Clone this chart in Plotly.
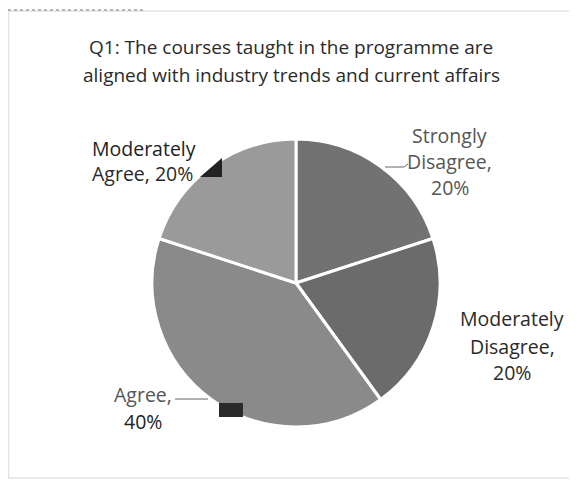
import plotly.graph_objects as go

# The page places the figure 8px from the top-left corner (default body margin),
# so the figure is sized to fill the rest of the 577x480 window.
OFF = 8
W, H = 577 - OFF, 480 - OFF

# ---- data ----
labels = ["Strongly Disagree", "Moderately Disagree", "Agree", "Moderately Agree"]
values = [20, 20, 40, 20]
slice_colors = ["#727272", "#6b6b6b", "#8a8a8a", "#9a9a9a"]
title_lines = ["Q1: The courses taught in the programme are",
               "aligned with industry trends and current affairs"]

def px(x):
    return (x - OFF) / W

def py(y):
    return 1 - (y - OFF) / H

fig = go.Figure(go.Pie(
    labels=labels,
    values=values,
    sort=False,
    direction="clockwise",
    rotation=0,
    textinfo="none",
    hoverinfo="label+percent",
    marker=dict(colors=slice_colors, line=dict(color="white", width=3)),
    domain=dict(x=[px(152), px(440)], y=[py(427), py(139)]),
    showlegend=False,
))

font_main = "Open Sans, DejaVu Sans, sans-serif"

annotations = []
for i, line in enumerate(title_lines):
    annotations.append(dict(
        x=px(291), y=py(47 + 28 * i), xref="paper", yref="paper",
        text=line, showarrow=False, xanchor="center", yanchor="middle",
        font=dict(family=font_main, size=19, color="#2a2a2a"),
    ))

def split_label(label, value, style):
    words = label.split(" ")
    if style == "stack":
        return words[:-1] + [words[-1] + ",", f"{value}%"]
    if style == "two":
        return words[:-1] + [words[-1] + f", {value}%"]
    return [f"{label},", f"{value}%"]

# style, anchor x, line y positions, alignment, line colours
label_specs = [
    ("stack", 450, [135, 161, 187], "center", ["#555555", "#555555", "#555555"]),
    ("stack", 512, [318, 346, 372], "center", ["#2a2a2a", "#2a2a2a", "#2a2a2a"]),
    ("simple", 143, [394, 421], "center", ["#555555", "#222222"]),
    ("two", 90, [148, 173], "left", ["#222222", "#2a2a2a"]),
]
for (style, x, ys, align, cols), lab, val in zip(label_specs, labels, values):
    for line, y, col in zip(split_label(lab, val, style), ys, cols):
        annotations.append(dict(
            x=px(x), y=py(y), xref="paper", yref="paper",
            text=line, showarrow=False,
            xanchor=align, yanchor="middle", align=align,
            font=dict(family=font_main, size=19.5, color=col),
        ))

shapes = [
    dict(type="rect", xref="paper", yref="paper", x0=px(8.5), x1=px(576), y0=py(478), y1=py(11),
         line=dict(color="#e2e2e2", width=1.5), layer="below"),
    dict(type="line", xref="paper", yref="paper", x0=px(8), x1=px(145), y0=py(10), y1=py(10),
         line=dict(color="#777777", width=1, dash="dot")),
    dict(type="path", xref="paper", yref="paper",
         path=f"M {px(385)},{py(167)} L {px(404)},{py(167)} L {px(408)},{py(164)}",
         line=dict(color="#666666", width=1)),
    dict(type="line", xref="paper", yref="paper", x0=px(175), x1=px(208), y0=py(399), y1=py(399),
         line=dict(color="#666666", width=1)),
    dict(type="path", xref="paper", yref="paper",
         path=f"M {px(200)},{py(177)} L {px(222)},{py(158)} L {px(222)},{py(177)} Z",
         fillcolor="#222222", line=dict(width=0)),
    dict(type="rect", xref="paper", yref="paper", x0=px(219), x1=px(243), y0=py(417), y1=py(403),
         fillcolor="#2a2a2a", line=dict(width=0)),
]

fig.update_layout(
    width=W, height=H,
    margin=dict(l=0, r=0, t=0, b=0),
    paper_bgcolor="white",
    plot_bgcolor="white",
    annotations=annotations,
    shapes=shapes,
)

fig.write_html("out.html")
